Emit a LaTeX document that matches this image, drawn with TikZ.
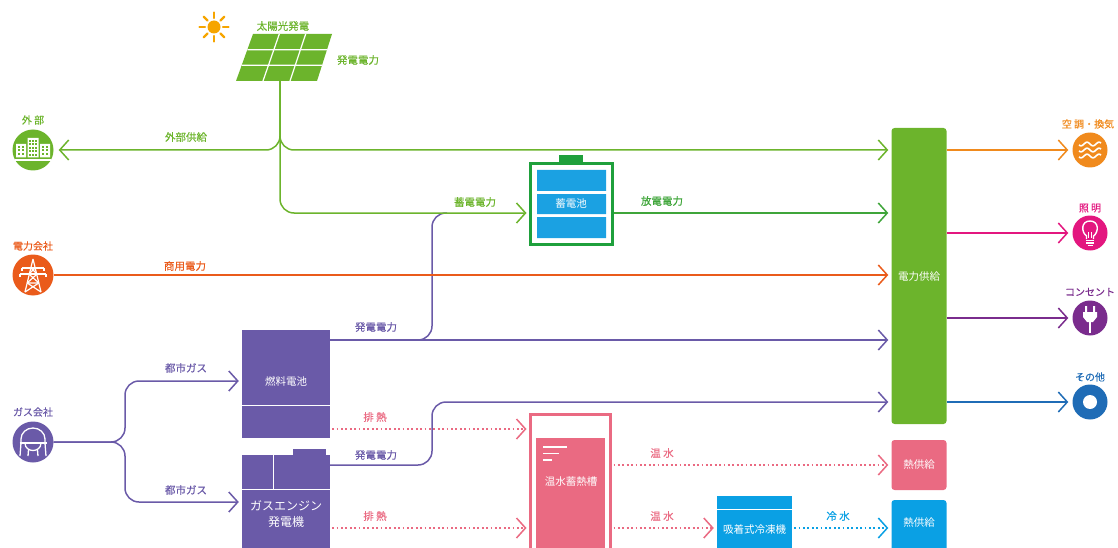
\documentclass[tikz,border=0pt]{standalone}
\usepackage{fontspec}
\setmainfont{Noto Sans CJK JP}
\newfontfamily\lblfont{Noto Sans CJK JP}[FakeBold=0.35]
\usetikzlibrary{arrows.meta}
\definecolor{cLeaf}{HTML}{6CB42C}
\definecolor{cCell}{HTML}{1FA03C}
\definecolor{cDisch}{HTML}{3FA53A}
\definecolor{cCellBlue}{HTML}{1BA1E2}
\definecolor{cGrid}{HTML}{EA5B1B}
\definecolor{cGas}{HTML}{6A5AA8}
\definecolor{cHeat}{HTML}{EA6A82}
\definecolor{cChill}{HTML}{0AA0E4}
\definecolor{cHvac}{HTML}{F08A1D}
\definecolor{cLamp}{HTML}{E3177F}
\definecolor{cOutlet}{HTML}{7A2C8D}
\definecolor{cMisc}{HTML}{1F6CB6}
\definecolor{cSun}{HTML}{F6A500}
\tikzset{
  lbl/.style={inner sep=0pt, font=\lblfont\fontsize{10.5}{12}\selectfont},
  ilbl/.style={inner sep=0pt, font=\lblfont\fontsize{10}{11}\selectfont},
  wtxt/.style={inner sep=0pt, text=white, font=\fontsize{10.5}{12}\selectfont},
  flow/.style={line width=1.5pt, rounded corners=14pt},
  flowtip/.style={-{Straight Barb[length=9pt,width=20pt,line width=1.5pt]}},
  heatline/.style={line width=2pt, dash pattern=on 1.8pt off 2.6pt},
  lefticon/.style={circle, minimum size=41pt, inner sep=0pt},
  righticon/.style={circle, minimum size=35pt, inner sep=0pt},
  plainbox/.style={inner sep=0pt, draw=none}
}
\begin{document}
\begin{tikzpicture}[x=1pt,y=-1pt]
\useasboundingbox (0,0) rectangle (1118,548);
\begin{scope}
\clip (0,0) rectangle (1118,548);

% sun
\fill[cSun] (214,27) circle (6.5);
\foreach \a in {0,45,...,315}
  \draw[cSun, line width=2.2pt, line cap=round] (214,27) ++(\a:9) -- ++(\a:5.5);

% solar panel
\fill[cLeaf] (253,34) -- (332,34) -- (317,81) -- (236,81) -- cycle;
\draw[white, line width=1.2pt] (279.3,34) -- (263,81) (305.7,34) -- (290,81)
  (247.3,49.7) -- (327,49.7) (241.7,65.3) -- (322,65.3);
\coordinate (pv) at (280,81);
\node[lbl, text=cLeaf] (pvlabel) at (283,26) {太陽光発電};
\node[lbl, text=cLeaf] (pvpower) at (358,60) {発電電力};

% left icons
\node[lefticon, fill=cLeaf] (gaibu) at (33,150) {};
\node[lefticon, fill=cGrid] (denryoku) at (33,275) {};
\node[lefticon, fill=cGas] (gasco) at (33,442) {};
\node[ilbl, text=cLeaf] (gaibulbl) at (33,120) {外 部};
\node[ilbl, text=cGrid] (denryokulbl) at (33,246) {電力会社};
\node[ilbl, text=cGas] (gascolbl) at (33,412) {ガス会社};

% buildings
\begin{scope}[shift={(gaibu.center)}]
  \fill[white] (-17,-6) rectangle (-7,7.5) (-5.5,-12) rectangle (5.5,7.5) (7,-6) rectangle (17,7.5);
  \foreach \x in {-15.2,-11.5} \foreach \y in {-4,-0.5,3}
    \fill[cLeaf] (\x,\y) rectangle ++(2.2,2);
  \foreach \x in {-3.8,-1,1.8} \foreach \y in {-10,-6.5,-3,0.5,4}
    \fill[cLeaf] (\x,\y) rectangle ++(1.9,1.9);
  \foreach \x in {9,12.7} \foreach \y in {-4,-0.5,3}
    \fill[cLeaf] (\x,\y) rectangle ++(2.2,2);
  \draw[white, line width=1.2pt] (-18,10) -- (18,10);
\end{scope}

% transmission tower
\begin{scope}[shift={(denryoku.center)}, white, line width=1.2pt]
  \draw (0,-16) -- (-8,17) (0,-16) -- (8,17);
  \draw (-11,-7) -- (11,-7) (-13,-1) -- (13,-1);
  \draw (-11,-7) -- (-11,-4) (11,-7) -- (11,-4) (-13,-1) -- (-13,2) (13,-1) -- (13,2);
  \draw (-2.2,-7) -- (4.1,-1) (2.2,-7) -- (-4.1,-1);
  \draw (-4.1,-1) -- (5.8,8) (4.1,-1) -- (-5.8,8) (-5.8,8) -- (5.8,8);
  \draw (-5.8,8) -- (8,17) (5.8,8) -- (-8,17);
\end{scope}

% gas holder
\begin{scope}[shift={(gasco.center)}, white, line width=1.3pt]
  \draw (-12,1) -- (-12,-3) arc[start angle=180, end angle=360, x radius=12, y radius=11] -- (12,1);
  \draw (-13.5,1) -- (13.5,1);
  \draw (-12,1) -- (-13,14) (12,1) -- (13,14);
  \draw (-8,1) .. controls (-8,11) and (8,11) .. (8,1);
  \draw (-4.5,8) -- (-5,14) (4.5,8) -- (5,14);
\end{scope}

% right icons
\node[righticon, fill=cHvac] (aircon) at (1090,150) {};
\node[righticon, fill=cLamp] (lighting) at (1090,233) {};
\node[righticon, fill=cOutlet] (outlet) at (1090,318) {};
\node[righticon, fill=cMisc] (others) at (1090,402) {};
\node[ilbl, text=cHvac] (airconlbl) at (1088,124) {空 調・換気};
\node[ilbl, text=cLamp] (lightinglbl) at (1090,208) {照 明};
\node[ilbl, text=cOutlet] (outletlbl) at (1090,292) {コンセント};
\node[ilbl, text=cMisc] (otherslbl) at (1090,377) {その他};

\begin{scope}[shift={(aircon.center)}, white, line width=1.6pt]
  \foreach \yy in {-6,0,6}
    \draw plot[domain=-11:11, samples=25, smooth] (\x, {\yy + 1.8*sin(\x*30)});
\end{scope}
\begin{scope}[shift={(lighting.center)}, white, line width=1.4pt]
  \draw (-3.5,6) -- (-3.5,3) .. controls (-9,-1) and (-9,-12) .. (0,-12)
        .. controls (9,-12) and (9,-1) .. (3.5,3) -- (3.5,6);
  \draw (-4,7.5) -- (4,7.5) (-4,10) -- (4,10) (-2.5,12.5) -- (2.5,12.5);
  \draw[line width=0.8pt] (-1.8,5) -- (-1.8,-1) (1.8,5) -- (1.8,-1);
\end{scope}
\begin{scope}[shift={(outlet.center)}, white]
  \fill (-5,-12) rectangle (-3,-6) (3,-12) rectangle (5,-6);
  \fill (-7,-6) -- (7,-6) -- (7,-1) -- (3,4) -- (-3,4) -- (-7,-1) -- cycle;
  \draw[line width=1.5pt] (0,4) -- (0,15);
\end{scope}
\fill[white] (others.center) circle (7);

% power supply bus
\node[plainbox, fill=cLeaf, rounded corners=3pt, minimum width=55pt, minimum height=296pt] (supply) at (919,276) {};
\node[wtxt] (supplytxt) at (919,277) {電力供給};

% storage battery
\node[plainbox, draw=cCell, line width=3pt, minimum width=82pt, minimum height=81pt] (battery) at (571,204) {};
\fill[cCell] (559,155) rectangle (583,163);
\fill[cCellBlue] (537,170) rectangle (606,191) (537,194) rectangle (606,214) (537,217) rectangle (606,238);
\node[wtxt] (batterytxt) at (571,204) {蓄電池};

% fuel cell
\node[plainbox, fill=cGas, minimum width=88pt, minimum height=108pt] (fc) at (286,384) {};
\draw[white, line width=0.8pt] (fc.west |- 0,405) -- (fc.east |- 0,405);
\node[wtxt] (fctxt) at (286,381) {燃料電池};

% gas engine generator
\node[plainbox, fill=cGas, minimum width=88pt, minimum height=94pt] (ge) at (286,502) {};
\fill[cGas] (293,449) rectangle (326,456);
\draw[white, line width=0.8pt] (273,455) -- (273,489) (242,489) -- (330,489);
\node[wtxt, font=\fontsize{12}{16.5}\selectfont, align=center] (getxt) at (286,514) {ガスエンジン\\発電機};

% hot water storage tank
\node[plainbox, draw=cHeat, line width=3pt, fill=white, minimum width=80pt, minimum height=136pt] (tank) at (570,482) {};
\fill[cHeat] (536,438) rectangle (605,550);
\draw[white, line width=1.2pt] (543,447) -- (567,447) (543,453.5) -- (559,453.5) (543,460) -- (552,460);
\node[wtxt] (tanktxt) at (571,482) {温水蓄熱槽};

% absorption chiller
\node[plainbox, fill=cChill, minimum width=75pt, minimum height=54pt] (chiller) at (754.5,523) {};
\draw[white, line width=0.8pt] (chiller.west |- 0,509) -- (chiller.east |- 0,509);
\node[wtxt] (chillertxt) at (754.5,530) {吸着式冷凍機};

% heat supply boxes
\node[plainbox, fill=cHeat, rounded corners=3pt, minimum width=55pt, minimum height=50pt] (hotsup) at (919,465) {};
\node[wtxt] (hotsuptxt) at (919,465) {熱供給};
\node[plainbox, fill=cChill, rounded corners=3pt, minimum width=55pt, minimum height=54pt] (coldsup) at (919,527) {};
\node[wtxt] (coldsuptxt) at (919,523) {熱供給};

% fuel cell power branch to the battery (under the green line)
\draw[flow, cGas] (fc.east |- 0,340) -- (432,340) -- (432,213) -- (447,213);

% solar power
\draw[flow, cLeaf, flowtip, shorten >=5pt] (pv) |- (gaibu.east);
\draw[flow, cLeaf, flowtip, shorten >=3pt] (pv) |- (supply.west |- 0,150);
\draw[flow, cLeaf, flowtip, shorten >=2pt] (pv) |- (battery.west |- 0,213);
\node[lbl, text=cLeaf] (extlbl) at (186,137) {外部供給};
\node[lbl, text=cLeaf] (chglbl) at (475,202) {蓄電電力};

% battery discharge
\draw[flow, cDisch, flowtip, shorten >=3pt] (battery.east |- 0,213) -- (supply.west |- 0,213);
\node[lbl, text=cDisch] (dischlbl) at (662,201) {放電電力};

% utility power
\draw[flow, cGrid, line width=1.8pt, flowtip, shorten >=3pt] (denryoku.east) -- (supply.west |- denryoku.east);
\node[lbl, text=cGrid] (gridlbl) at (185,266) {商用電力};

% generated power
\draw[flow, cGas, flowtip, shorten >=3pt] (fc.east |- 0,340) -- (supply.west |- 0,340);
\node[lbl, text=cGas] (fcpowlbl) at (376,327) {発電電力};
\draw[flow, cGas, flowtip, shorten >=3pt] (ge.east |- 0,465) -- (432,465) -- (432,402) -- (supply.west |- 0,402);
\node[lbl, text=cGas] (gepowlbl) at (376,455) {発電電力};

% city gas
\draw[flow, cGas, flowtip, shorten >=3pt] (gasco.east) -- (125,442) -- (125,381) -- (fc.west |- 0,381);
\draw[flow, cGas, flowtip, shorten >=3pt] (gasco.east) -- (125,442) -- (125,502) -- (ge.west |- 0,502);
\node[lbl, text=cGas] (gas1lbl) at (186,368) {都市ガス};
\node[lbl, text=cGas] (gas2lbl) at (186,490) {都市ガス};

% waste heat and water
\draw[heatline, cHeat, flowtip, shorten >=2pt] ([xshift=2pt]fc.east |- 0,429) -- (tank.west |- 0,429);
\draw[heatline, cHeat, flowtip, shorten >=2pt] ([xshift=2pt]ge.east |- 0,528) -- (tank.west |- 0,528);
\node[lbl, text=cHeat] (heat1lbl) at (375,417) {排 熱};
\node[lbl, text=cHeat] (heat2lbl) at (375,516) {排 熱};
\draw[heatline, cHeat, flowtip, shorten >=3pt] ([xshift=2pt]tank.east |- 0,465) -- (hotsup.west);
\draw[heatline, cHeat, flowtip, shorten >=3pt] ([xshift=2pt]tank.east |- 0,528) -- (chiller.west |- 0,528);
\node[lbl, text=cHeat] (hw1lbl) at (662,453) {温 水};
\node[lbl, text=cHeat] (hw2lbl) at (662,516) {温 水};
\draw[heatline, cChill, flowtip, shorten >=3pt] ([xshift=2pt]chiller.east |- 0,528) -- (coldsup.west |- 0,528);
\node[lbl, text=cChill] (cwlbl) at (838,516) {冷 水};

% power outputs
\draw[flow, cHvac, flowtip, shorten >=4pt] (supply.east |- aircon.west) -- (aircon.west);
\draw[flow, cLamp, flowtip, shorten >=4pt] (supply.east |- lighting.west) -- (lighting.west);
\draw[flow, cOutlet, flowtip, shorten >=4pt] (supply.east |- outlet.west) -- (outlet.west);
\draw[flow, cMisc, flowtip, shorten >=4pt] (supply.east |- others.west) -- (others.west);
\end{scope}
\end{tikzpicture}
\end{document}
